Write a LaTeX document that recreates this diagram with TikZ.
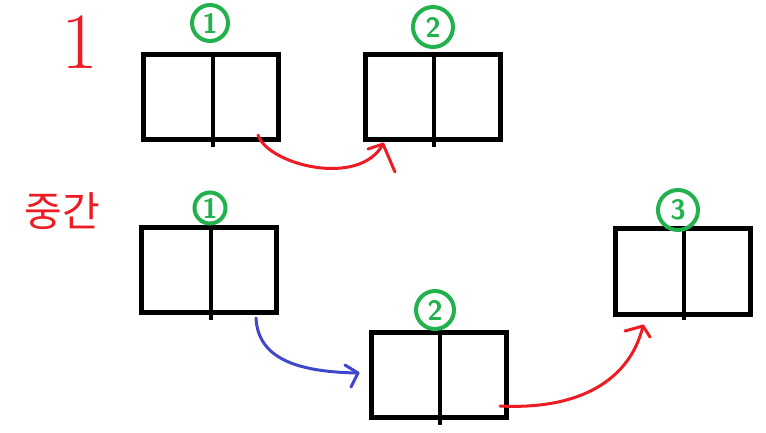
\documentclass[tikz,border=0pt]{standalone}
\usepackage{fontspec}
\newfontfamily\krfont{Noto Sans CJK KR}
\definecolor{pred}{RGB}{237,28,36}
\definecolor{pgreen}{RGB}{34,177,76}
\definecolor{pblue}{RGB}{63,72,204}
\begin{document}
\begin{tikzpicture}[x=1pt,y=-1pt,
  cell/.style={draw=black,line width=5pt,minimum width=135pt,minimum height=85pt,inner sep=0pt,outer sep=0pt},
  divider/.style={draw=black,line width=4.5pt},
  num/.style={draw=pgreen,text=pgreen,circle,line width=4pt,inner sep=0pt,font=\sffamily\bfseries\fontsize{28}{28}\selectfont},
  link/.style={line width=3pt,line cap=round,line join=round},
  ]
\useasboundingbox (0,0) rectangle (766,433);
% labels
\node[text=pred,font=\fontsize{80}{80}\selectfont] (l1) at (80,42) {1};
\node[text=pred,font=\krfont\fontsize{41}{41}\selectfont] (lmid) at (62,211) {중간};
% boxes
\node[cell] (A) at (211,97.5) {};
\node[cell] (B) at (432.5,97.5) {};
\node[cell] (C) at (209,270) {};
\node[cell] (D) at (438.5,374.5) {};
\node[cell,minimum height=86pt] (E) at (682.5,271) {};
% dividers
\draw[divider] ([xshift=2pt]A.north) -- ([xshift=2pt,yshift=-7pt]A.south);
\draw[divider] ([xshift=1.5pt]B.north) -- ([xshift=1.5pt,yshift=-7pt]B.south);
\draw[divider] ([xshift=2pt]C.north) -- ([xshift=2pt,yshift=-7pt]C.south);
\draw[divider] ([xshift=1.5pt]D.north) -- ([xshift=1.5pt,yshift=-8pt]D.south);
\draw[divider] ([xshift=1.5pt]E.north) -- ([xshift=1.5pt,yshift=-6pt]E.south);
% circled numbers
\node[num,minimum size=36pt] (nA) at (210,23) {1};
\node[num,minimum size=40pt] (nB) at (433,27) {2};
\node[num,minimum size=31pt] (nC) at (210,208) {1};
\node[num,minimum size=38pt] (nD) at (435,310) {2};
\node[num,minimum size=40pt] (nE) at (678,210) {3};
% arrow 1 (red, top)
\coordinate (r1s) at (258,135);
\coordinate (r1t) at (383,144);
\draw[link,pred] (r1s) .. controls (268,165) and (360,188) .. (r1t);
\draw[link,pred] (r1t) -- (368,149);
\draw[link,pred] (r1t) -- (395,172);
% arrow 2 (blue)
\coordinate (bs) at (256,318);
\coordinate (bt) at (358,373);
\draw[link,pblue] (bs) .. controls (258,360) and (300,372) .. (bt);
\draw[link,pblue] (bt) -- (345,365);
\draw[link,pblue] (bt) -- (351,387);
% arrow 3 (red, bottom)
\coordinate (r2s) at (500,406);
\coordinate (r2t) at (643,326);
\draw[link,pred] (r2s) .. controls (580,410) and (630,380) .. (r2t);
\draw[link,pred] (r2t) -- (625,331);
\draw[link,pred] (r2t) -- (650,337);
\end{tikzpicture}
\end{document}
